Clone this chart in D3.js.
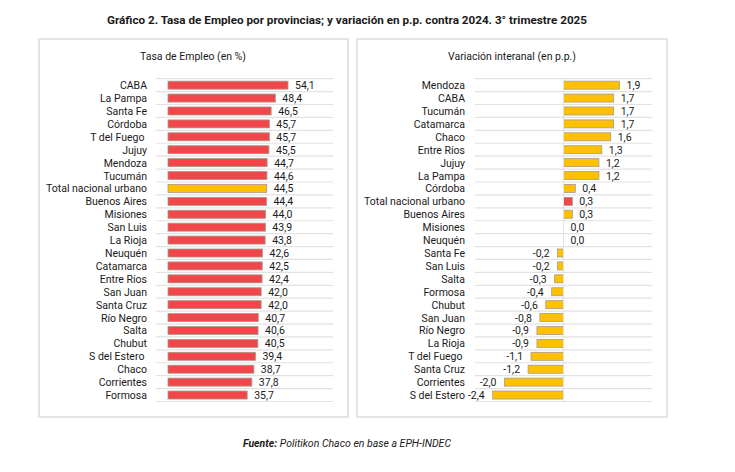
<!DOCTYPE html>
<html>
<head>
<meta charset="utf-8">
<script src="https://cdn.jsdelivr.net/npm/d3@7"></script>
<style>
  body { margin: 0; background: #fff; }
  text { font-family: Roboto, "Noto Sans", sans-serif; fill: #1a1a1a; white-space: pre; }
</style>
</head>
<body>
<div class="chart"></div>
<script>
// Tasa de empleo (en %)
let empleoProv = ['CABA', 'La Pampa', 'Santa Fe', 'Córdoba', 'T del Fuego ', 'Jujuy', 'Mendoza', 'Tucumán',
  'Total nacional urbano', 'Buenos Aires', 'Misiones', 'San Luis', 'La Rioja', 'Neuquén', 'Catamarca',
  'Entre Ríos', 'San Juan', 'Santa Cruz', 'Río Negro', 'Salta', 'Chubut', 'S del Estero ', 'Chaco',
  'Corrientes', 'Formosa'];
let empleoVal = [54.1, 48.4, 46.5, 45.7, 45.7, 45.5, 44.7, 44.6, 44.5, 44.4, 44.0, 43.9, 43.8, 42.6, 42.5,
  42.4, 42.0, 42.0, 40.7, 40.6, 40.5, 39.4, 38.7, 37.8, 35.7];

// Variación interanual (en p.p.)
let varProv = ['Mendoza', 'CABA', 'Tucumán', 'Catamarca', 'Chaco', 'Entre Ríos', 'Jujuy', 'La Pampa',
  'Córdoba', 'Total nacional urbano', 'Buenos Aires', 'Misiones', 'Neuquén', 'Santa Fe', 'San Luis',
  'Salta', 'Formosa', 'Chubut', 'San Juan', 'Río Negro', 'La Rioja', 'T del Fuego ', 'Santa Cruz',
  'Corrientes', 'S del Estero'];
let varVal = [1.9, 1.7, 1.7, 1.7, 1.6, 1.3, 1.2, 1.2, 0.4, 0.3, 0.3, 0.0, 0.0, -0.2, -0.2, -0.3, -0.4,
  -0.6, -0.8, -0.9, -0.9, -1.1, -1.2, -2.0, -2.4];

let total = 'Total nacional urbano';
let red = '#f2474a';
let yellow = '#ffc000';
let fmt = v => d3.format('.1f')(v).replace('.', ',').replace('−', '-');

let width = 735;
let height = 472;
let fs = '10.5px';

let svg = d3.select('.chart')
  .append('svg')
    .attr('width', width)
    .attr('height', height);

svg.append('text')
  .attr('x', 347)
  .attr('y', 24)
  .attr('text-anchor', 'middle')
  .style('font-weight', 'bold')
  .style('font-size', '11.7px')
  .text('Gráfico 2. Tasa de Empleo por provincias; y variación en p.p. contra 2024. 3° trimestre 2025');

// panel frames
[[39, 348], [357, 667]].forEach(([x0, x1]) => {
  svg.append('rect')
    .attr('x', x0)
    .attr('y', 39)
    .attr('width', x1 - x0)
    .attr('height', 378)
    .style('fill', '#fff')
    .style('stroke', '#e4e4e4')
    .style('stroke-width', 2);
});

let yTop = 78.7;
let yBot = 401.5;

function panel(names, values, x, gridX0, gridX1, labelX, title, titleX, colorOf) {
  let g = svg.append('g');

  let y = d3.scaleBand()
    .domain(names)
    .range([yTop, yBot])
    .paddingInner(0.38)
    .paddingOuter(0.19);

  g.append('text')
    .attr('x', titleX)
    .attr('y', 60)
    .attr('text-anchor', 'middle')
    .style('font-size', fs)
    .text(title);

  // row separators
  let step = y.step();
  g.selectAll('line.row')
    .data(d3.range(names.length + 1))
    .join('line')
      .attr('x1', gridX0)
      .attr('x2', gridX1)
      .attr('y1', i => yTop + i * step)
      .attr('y2', i => yTop + i * step)
      .style('stroke', '#e2e2e2')
      .style('stroke-width', 1.2);

  let data = names.map((n, i) => ({name: n, value: values[i]}));

  g.selectAll('rect.bar')
    .data(data)
    .join('rect')
      .attr('x', d => x(Math.min(0, d.value)))
      .attr('y', d => y(d.name))
      .attr('width', d => Math.abs(x(d.value) - x(0)))
      .attr('height', y.bandwidth())
      .style('fill', d => colorOf(d))
      .style('stroke', d => d.value === 0 ? 'none' : '#a59a8a')
      .style('stroke-width', 0.8);

  g.selectAll('text.cat')
    .data(data)
    .join('text')
      .attr('x', labelX)
      .attr('y', d => y(d.name) + y.bandwidth() / 2 + 4)
      .attr('text-anchor', 'end')
      .style('font-size', fs)
      .text(d => d.name);

  g.selectAll('text.val')
    .data(data)
    .join('text')
      .attr('x', d => d.value < 0 ? x(d.value) - 8 : x(d.value) + 7)
      .attr('y', d => y(d.name) + y.bandwidth() / 2 + 4)
      .attr('text-anchor', d => d.value < 0 ? 'end' : 'start')
      .style('font-size', fs)
      .text(d => fmt(d.value));

  return g;
}

let xL = d3.scaleLinear()
  .domain([0, 80])
  .range([168, 168 + 80 * 2.218]);

panel(empleoProv, empleoVal, xL, 156, 333, 147, 'Tasa de Empleo (en %)', 193,
  d => d.name === total ? yellow : red);

let xR = d3.scaleLinear()
  .domain([-3, 3])
  .range([475, 652]);

let right = panel(varProv, varVal, xR, 475, 652, 465, 'Variación interanal (en p.p.)', 512,
  d => d.name === total ? red : yellow);

right.append('line')
  .attr('x1', xR(0))
  .attr('x2', xR(0))
  .attr('y1', yTop)
  .attr('y2', yBot)
  .style('stroke', '#e2e2e2')
  .style('stroke-width', 1);

let foot = svg.append('text')
  .attr('x', 347)
  .attr('y', 447)
  .attr('text-anchor', 'middle')
  .style('font-size', '10.5px')
  .style('font-style', 'italic');
foot.append('tspan').style('font-weight', 'bold').text('Fuente:');
foot.append('tspan').text(' Politikon Chaco en base a EPH-INDEC');
</script>
</body>
</html>
